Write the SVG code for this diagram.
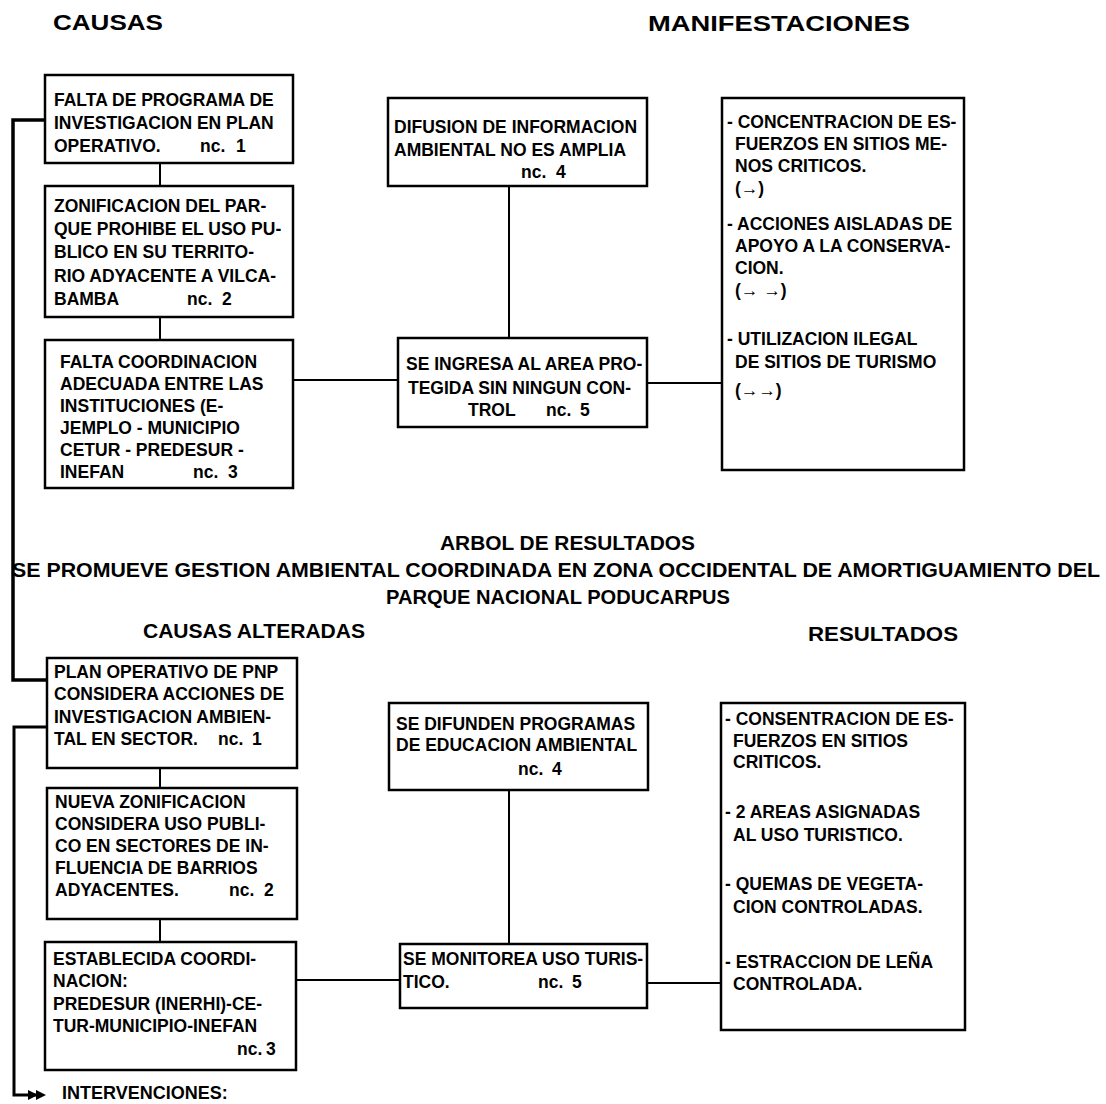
<svg xmlns="http://www.w3.org/2000/svg" width="1106" height="1104" viewBox="0 0 1106 1104">
<style>
text{font-family:"Liberation Sans",Arial,sans-serif;font-weight:bold;fill:#000}
.t{font-size:17.5px}
.h{font-size:22px}
.m{font-size:20px}
.box{fill:#fff;stroke:#000;stroke-width:2.5}
.ln{fill:none;stroke:#000;stroke-width:2}
.thick{fill:none;stroke:#000;stroke-width:3.5}
</style>
<rect width="1106" height="1104" fill="#fff"/>
<g id="headers">
<text class="h" x="53" y="30" textLength="110" lengthAdjust="spacingAndGlyphs">CAUSAS</text>
<text class="h" x="648" y="31" textLength="262" lengthAdjust="spacingAndGlyphs">MANIFESTACIONES</text>
<text class="m" x="440" y="550" textLength="255" lengthAdjust="spacingAndGlyphs">ARBOL DE RESULTADOS</text>
<text class="m" x="12" y="577" textLength="1088" lengthAdjust="spacingAndGlyphs">SE PROMUEVE GESTION AMBIENTAL COORDINADA EN ZONA OCCIDENTAL DE AMORTIGUAMIENTO DEL</text>
<text class="m" x="386" y="604" textLength="344" lengthAdjust="spacingAndGlyphs">PARQUE NACIONAL PODUCARPUS</text>
<text class="m" x="143" y="638" textLength="222" lengthAdjust="spacingAndGlyphs">CAUSAS ALTERADAS</text>
<text class="m" x="808" y="641" textLength="150" lengthAdjust="spacingAndGlyphs">RESULTADOS</text>
</g>
<g id="connectors">
<path class="thick" d="M45,120 H13 V680 H47"/>
<path class="thick" style="stroke-width:3" d="M47,727 H14 V1095 H40"/>
<polygon points="28,1090 38,1095 28,1100" fill="#000"/>
<polygon points="36,1090 46,1095 36,1100" fill="#000"/>
<path class="ln" d="M160,163 V186 M160,317 V340 M293,380 H398 M647,383 H722 M509,186 V338"/>
<path class="ln" d="M160,768 V788 M160,919 V942 M297,980 H400 M647,983 H721 M509,790 V944"/>
</g>
<g id="n1"><rect class="box" x="45" y="75" width="248" height="88"/>
<text class="t" x="54" y="106">FALTA DE PROGRAMA DE</text>
<text class="t" x="54" y="129">INVESTIGACION EN PLAN</text>
<text class="t" x="54" y="152">OPERATIVO.</text><text class="t" x="200" y="152">nc.</text><text class="t" x="236" y="152">1</text></g>
<g id="n2"><rect class="box" x="45" y="186" width="248" height="131"/>
<text class="t" x="54" y="212">ZONIFICACION DEL PAR-</text>
<text class="t" x="54" y="235">QUE PROHIBE EL USO PU-</text>
<text class="t" x="54" y="258">BLICO EN SU TERRITO-</text>
<text class="t" x="54" y="282">RIO ADYACENTE A VILCA-</text>
<text class="t" x="54" y="305">BAMBA</text><text class="t" x="187" y="305">nc.</text><text class="t" x="222" y="305">2</text></g>
<g id="n3"><rect class="box" x="45" y="340" width="248" height="148"/>
<text class="t" x="60" y="368">FALTA COORDINACION</text>
<text class="t" x="60" y="390">ADECUADA ENTRE LAS</text>
<text class="t" x="60" y="412">INSTITUCIONES (E-</text>
<text class="t" x="60" y="434">JEMPLO - MUNICIPIO</text>
<text class="t" x="60" y="456">CETUR - PREDESUR -</text>
<text class="t" x="60" y="478">INEFAN</text><text class="t" x="193" y="478">nc.</text><text class="t" x="228" y="478">3</text></g>
<g id="n4"><rect class="box" x="388" y="98" width="259" height="88"/>
<text class="t" x="394" y="133">DIFUSION DE INFORMACION</text>
<text class="t" x="394" y="156">AMBIENTAL NO ES AMPLIA</text>
<text class="t" x="521" y="178">nc.</text><text class="t" x="556" y="178">4</text></g>
<g id="n5"><rect class="box" x="398" y="338" width="249" height="89"/>
<text class="t" x="406" y="370">SE INGRESA AL AREA PRO-</text>
<text class="t" x="408" y="394">TEGIDA SIN NINGUN CON-</text>
<text class="t" x="468" y="416">TROL</text><text class="t" x="546" y="416">nc.</text><text class="t" x="580" y="416">5</text></g>
<g id="n6"><rect class="box" x="722" y="98" width="242" height="372"/>
<text class="t" x="727" y="128">- CONCENTRACION DE ES-</text>
<text class="t" x="735" y="150">FUERZOS EN SITIOS ME-</text>
<text class="t" x="735" y="172">NOS CRITICOS.</text>
<text class="t" x="735" y="194">(→)</text>
<text class="t" x="727" y="230">- ACCIONES AISLADAS DE</text>
<text class="t" x="735" y="252">APOYO A LA CONSERVA-</text>
<text class="t" x="735" y="274">CION.</text>
<text class="t" x="735" y="296">(→ →)</text>
<text class="t" x="727" y="345">- UTILIZACION ILEGAL</text>
<text class="t" x="735" y="368">DE SITIOS DE TURISMO</text>
<text class="t" x="735" y="396">(→→)</text></g>
<g id="r1"><rect class="box" x="47" y="658" width="250" height="110"/>
<text class="t" x="54" y="678">PLAN OPERATIVO DE PNP</text>
<text class="t" x="54" y="700">CONSIDERA ACCIONES DE</text>
<text class="t" x="54" y="723">INVESTIGACION AMBIEN-</text>
<text class="t" x="54" y="745">TAL EN SECTOR.</text><text class="t" x="218" y="745">nc.</text><text class="t" x="252" y="745">1</text></g>
<g id="r2"><rect class="box" x="47" y="788" width="250" height="131"/>
<text class="t" x="55" y="808">NUEVA ZONIFICACION</text>
<text class="t" x="55" y="830">CONSIDERA USO PUBLI-</text>
<text class="t" x="55" y="852">CO EN SECTORES DE IN-</text>
<text class="t" x="55" y="874">FLUENCIA DE BARRIOS</text>
<text class="t" x="55" y="896">ADYACENTES.</text><text class="t" x="229" y="896">nc.</text><text class="t" x="264" y="896">2</text></g>
<g id="r3"><rect class="box" x="45" y="942" width="251" height="128"/>
<text class="t" x="53" y="965">ESTABLECIDA COORDI-</text>
<text class="t" x="53" y="987">NACION:</text>
<text class="t" x="53" y="1010">PREDESUR (INERHI)-CE-</text>
<text class="t" x="53" y="1032">TUR-MUNICIPIO-INEFAN</text>
<text class="t" x="237" y="1055">nc.</text><text class="t" x="266" y="1055">3</text></g>
<g id="r4"><rect class="box" x="389" y="703" width="259" height="87"/>
<text class="t" x="396" y="730">SE DIFUNDEN PROGRAMAS</text>
<text class="t" x="396" y="751">DE EDUCACION AMBIENTAL</text>
<text class="t" x="518" y="775">nc.</text><text class="t" x="552" y="775">4</text></g>
<g id="r5"><rect class="box" x="400" y="944" width="247" height="64"/>
<text class="t" x="403" y="965">SE MONITOREA USO TURIS-</text>
<text class="t" x="403" y="988">TICO.</text><text class="t" x="538" y="988">nc.</text><text class="t" x="572" y="988">5</text></g>
<g id="r6"><rect class="box" x="721" y="703" width="244" height="327"/>
<text class="t" x="725" y="725">- CONSENTRACION DE ES-</text>
<text class="t" x="733" y="747">FUERZOS EN SITIOS</text>
<text class="t" x="733" y="768">CRITICOS.</text>
<text class="t" x="725" y="818">- 2 AREAS ASIGNADAS</text>
<text class="t" x="733" y="841">AL USO TURISTICO.</text>
<text class="t" x="725" y="890">- QUEMAS DE VEGETA-</text>
<text class="t" x="733" y="913">CION CONTROLADAS.</text>
<text class="t" x="725" y="968">- ESTRACCION DE LEÑA</text>
<text class="t" x="733" y="990">CONTROLADA.</text></g>
<g id="footer"><text x="62" y="1099" style="font-size:18px">INTERVENCIONES:</text></g>
</svg>
